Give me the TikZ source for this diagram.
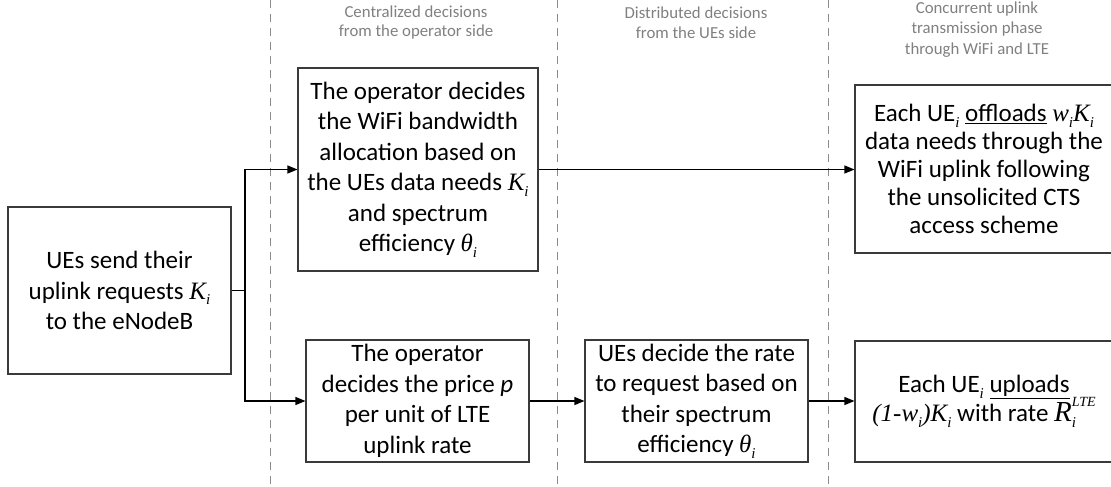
\documentclass[tikz,border=0pt]{standalone}
\usepackage{fontspec}
\setmainfont{Carlito}
\newfontfamily\tms{Liberation Serif}
\usetikzlibrary{arrows.meta}
\definecolor{boxline}{HTML}{3A3A3A}
\definecolor{phasegray}{HTML}{8C8C8C}
\definecolor{headgray}{HTML}{808080}
% italic serif variables and their small lowered/raised indices
\newcommand\mv[1]{{\tms\itshape #1}}
\newcommand\lo[1]{\raisebox{-0.22em}{\fontsize{15}{15}\selectfont\tms\itshape #1}}
\newcommand\hi[1]{\raisebox{0.62em}{\fontsize{14}{14}\selectfont\tms\itshape #1}}
\begin{document}
\begin{tikzpicture}[x=1pt,y=-1pt,
  box/.style={draw=boxline, line width=1.1pt, fill=white, inner sep=0pt,
    align=center, font=\fontsize{25}{30.5}\selectfont},
  hdr/.style={text=headgray, align=center, inner sep=0pt,
    font=\fontsize{16.8}{19.8}\selectfont},
  phase/.style={draw=phasegray, line width=0.9pt, dash pattern=on 8pt off 6pt},
  link/.style={draw=black, line width=1.2pt},
  arr/.style={link, -{Triangle[length=10pt,width=8pt]}}]
\useasboundingbox (0,0) rectangle (1111,487);

% phase separators
\draw[phase] (270,0) -- (270,487);
\draw[phase] (557.5,0) -- (557.5,487);
\draw[phase] (828,0) -- (828,487);

% phase titles
\node[hdr] (h1) at (416,22.5) {Centralized decisions\\from the operator side};
\node[hdr] (h2) at (696,22.5) {Distributed decisions\\from the UEs side};
\node[hdr, font=\fontsize{16.8}{20.5}\selectfont] (h3) at (977,29.5)
  {Concurrent uplink\\transmission phase\\through WiFi and LTE};

% steps
\node[box, minimum width=223pt, minimum height=167pt] (req) at (119.5,290.5)
  {UEs send their\\uplink requests \mv{K}\lo{i}\\to the eNodeB};
\node[box, minimum width=240pt, minimum height=203pt] (wifi) at (418,169.5)
  {The operator decides\\the WiFi bandwidth\\allocation based on\\the UEs data needs \mv{K}\lo{i}\\and spectrum\\efficiency \mv{θ}\lo{i}};
\node[box, minimum width=223pt, minimum height=122pt] (price) at (417.5,401)
  {The operator\\decides the price \textit{p}\\per unit of LTE\\uplink rate};
\node[box, minimum width=223pt, minimum height=122pt] (rate) at (696.5,401)
  {UEs decide the rate\\to request based on\\their spectrum\\efficiency \mv{θ}\lo{i}};
\node[box, minimum width=258pt, minimum height=168pt,
  font=\fontsize{25}{27.8}\selectfont] (wout) at (984,169)
  {Each UE\lo{i} \underline{offloads} \mv{w}\lo{i}\mv{K}\lo{i}\\data needs through the\\WiFi uplink following\\the unsolicited CTS\\access scheme};
\node[box, minimum width=258pt, minimum height=121pt,
  font=\fontsize{25}{29}\selectfont] (lout) at (984,401.5)
  {Each UE\lo{i} \underline{uploads}\\\mv{(1-w}\lo{i}\mv{)K}\lo{i} with rate \smash{\mv{\fontsize{29}{29}\selectfont R}\rlap{\lo{i}}\hi{LTE}}};

% flow
\coordinate (split) at (245,290.5);
\draw[link] (req.east) -- (split);
\draw[arr] (split) |- (wifi.west);
\draw[arr] (split) |- (price.west);
\draw[arr] (wifi.east) -- (wifi.east -| wout.west);
\draw[arr] (price.east) -- (rate.west);
\draw[arr] (rate.east) -- (rate.east -| lout.west);
\end{tikzpicture}
\end{document}
